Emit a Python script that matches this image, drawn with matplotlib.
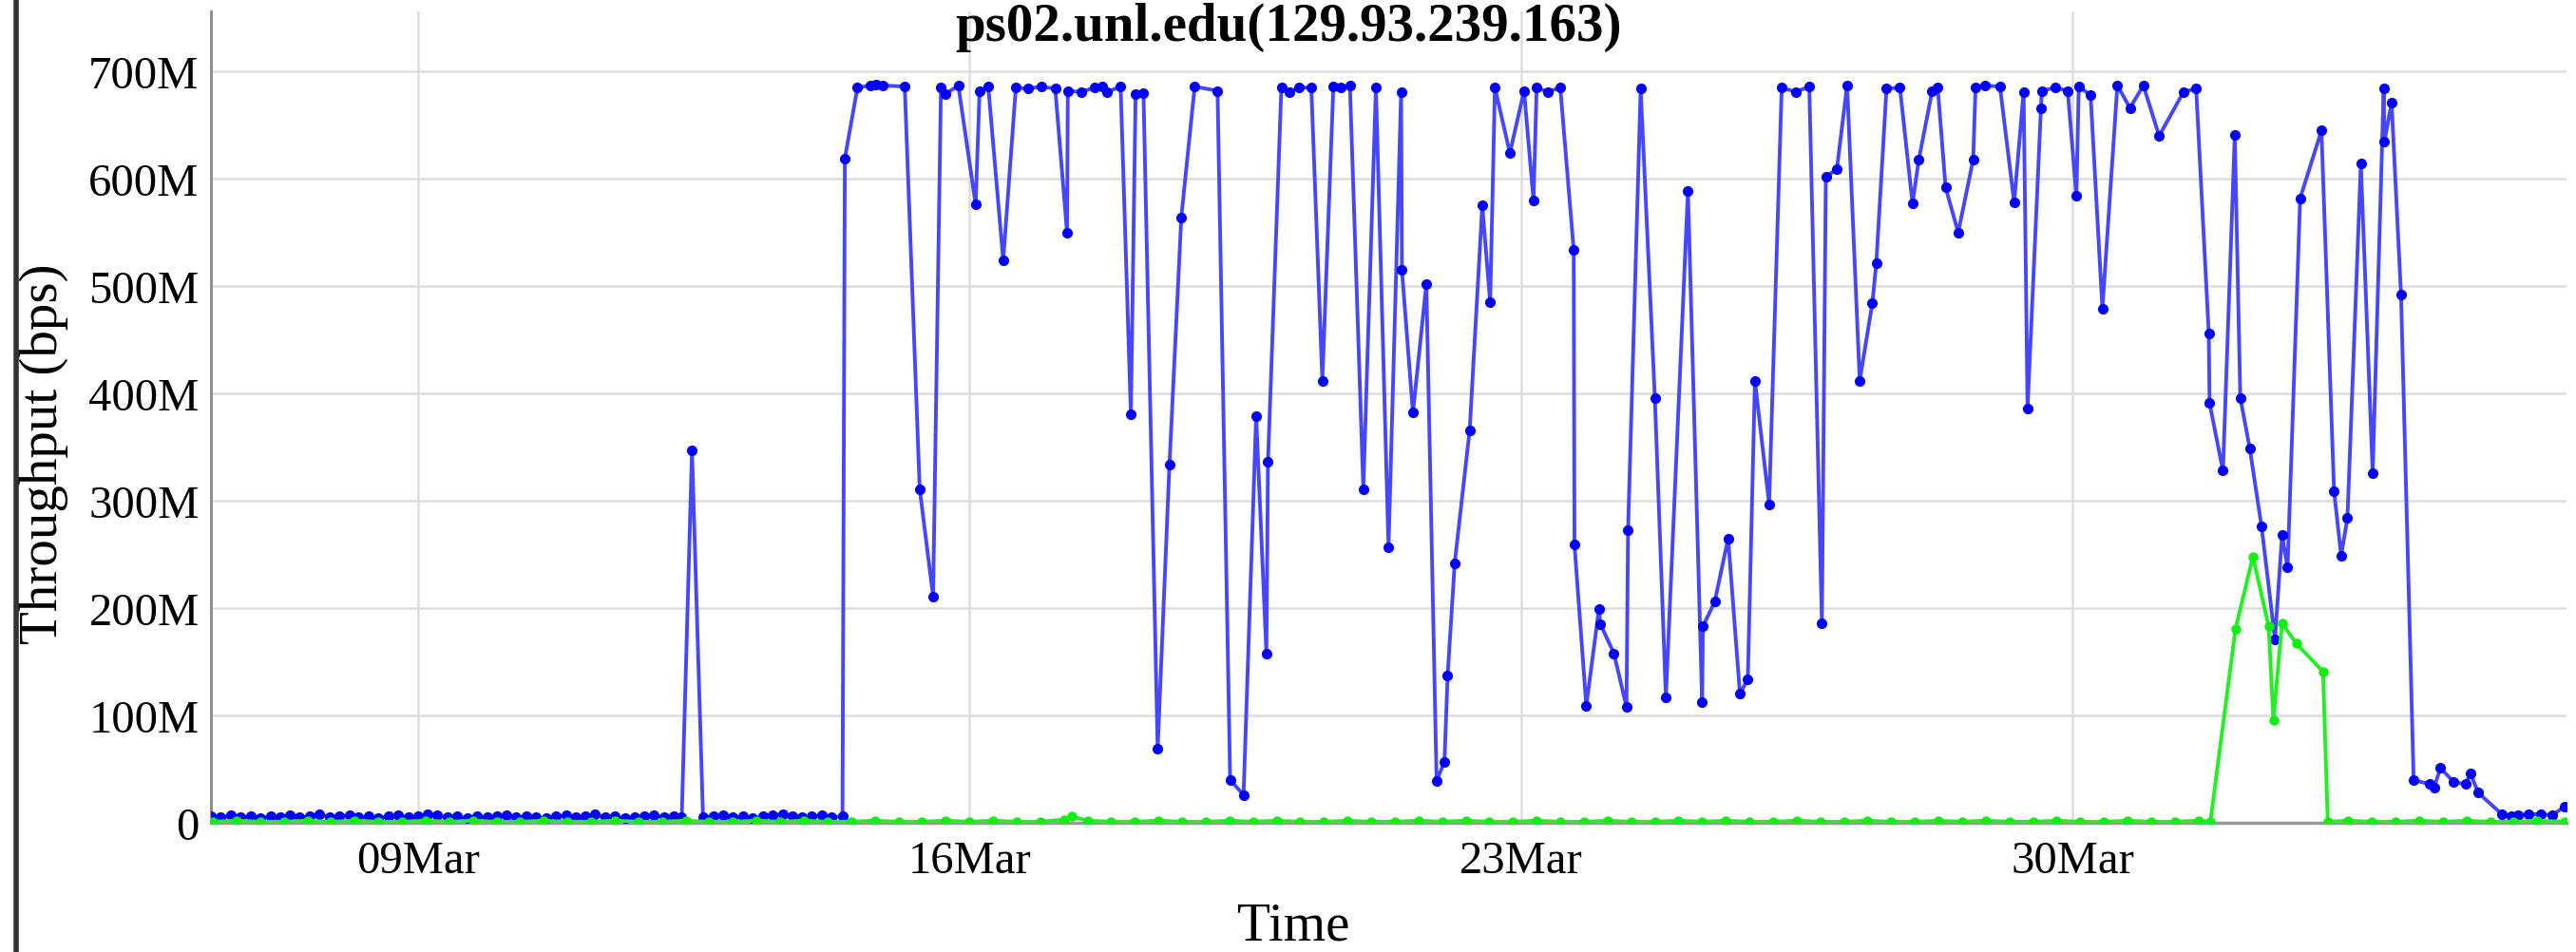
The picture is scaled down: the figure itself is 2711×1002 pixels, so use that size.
import matplotlib
matplotlib.use("Agg")
import matplotlib.pyplot as plt
import matplotlib.dates as mdates
from matplotlib.lines import Line2D
from matplotlib.ticker import FuncFormatter
from datetime import datetime, timedelta

# times are fractional days of March (32.0 = 01Apr), values in Mbps
blue_days = [
    6.38, 6.50, 6.63, 6.75, 6.88, 7.00, 7.13, 7.25, 7.38, 7.50,
    7.63, 7.75, 7.88, 8.00, 8.13, 8.25, 8.38, 8.50, 8.63, 8.75,
    8.88, 9.00, 9.13, 9.25, 9.38, 9.50, 9.63, 9.75, 9.88, 10.00,
    10.13, 10.25, 10.38, 10.50, 10.63, 10.75, 10.88, 11.00, 11.13, 11.25,
    11.38, 11.50, 11.63, 11.75, 11.88, 12.00, 12.13, 12.25, 12.35, 12.48,
    12.62, 12.75, 12.88, 13.00, 13.13, 13.25, 13.38, 13.50, 13.63, 13.75,
    13.88, 14.00, 14.13, 14.25, 14.39,
    14.42, 14.58, 14.74, 14.82, 14.90, 15.18, 15.37, 15.54, 15.64, 15.70,
    15.86, 16.08, 16.13, 16.24, 16.43, 16.59, 16.74, 16.91, 17.09, 17.24,
    17.25, 17.42, 17.59, 17.69, 17.75, 17.92, 18.05, 18.11, 18.21, 18.39,
    18.54, 18.69, 18.86, 19.15, 19.31, 19.48, 19.64, 19.77, 19.79, 19.96,
    20.06, 20.18, 20.34, 20.48, 20.62, 20.71, 20.83, 21.00, 21.16, 21.32,
    21.48, 21.49, 21.63, 21.80, 21.93, 22.03, 22.07, 22.16, 22.35, 22.51,
    22.61, 22.67, 22.86, 23.04, 23.16, 23.20, 23.34, 23.50, 23.67, 23.68,
    23.83, 23.99, 24.01, 24.18, 24.34, 24.36, 24.52, 24.70, 24.84, 25.12,
    25.30, 25.31, 25.46, 25.63, 25.78, 25.88, 25.97, 26.15, 26.31, 26.49,
    26.66, 26.82, 26.87, 27.01, 27.14, 27.30, 27.46, 27.51, 27.64, 27.81,
    27.97, 28.05, 28.22, 28.29, 28.39, 28.55, 28.74, 28.77, 28.89, 29.08,
    29.26, 29.38, 29.43, 29.60, 29.61, 29.78, 29.94, 30.05, 30.08, 30.23,
    30.38, 30.57, 30.73, 30.90, 31.10, 31.41, 31.57, 31.73, 31.74, 31.91,
    32.06, 32.13, 32.25, 32.40, 32.57, 32.66, 32.73, 32.89, 33.16, 33.32,
    33.41, 33.49, 33.66, 33.81, 33.95, 33.96, 34.05, 34.17, 34.33, 34.53,
    34.59, 34.67, 34.84, 34.99, 35.05, 35.15, 35.45, 35.57, 35.65, 35.79,
    35.95, 36.09, 36.24,
]
blue_mbps = [
    6, 5, 7, 5, 6, 4, 6, 5, 7, 5,
    6, 8, 5, 6, 7, 5, 6, 4, 6, 7,
    5, 6, 8, 7, 5, 6, 4, 6, 5, 6,
    7, 5, 6, 5, 4, 6, 7, 5, 6, 8,
    5, 6, 4, 5, 6, 7, 5, 6, 5, 347,
    5, 6, 7, 5, 6, 4, 6, 7, 8, 6,
    5, 6, 7, 5, 6,
    619, 685, 687, 688, 687, 686, 311, 211, 685, 679,
    687, 576, 682, 686, 524, 685, 684, 686, 684, 550,
    682, 681, 685, 686, 681, 686, 381, 679, 680, 69,
    334, 564, 686, 682, 40, 26, 379, 158, 336, 685,
    681, 685, 685, 412, 686, 685, 687, 311, 685, 257,
    681, 515, 382, 502, 39, 57, 137, 242, 366, 575,
    485, 685, 624, 682, 580, 685, 681, 685, 534, 259,
    109, 199, 185, 158, 108, 273, 684, 396, 117, 589,
    112, 183, 206, 265, 120, 134, 412, 297, 685, 681,
    686, 186, 602, 609, 687, 412, 484, 521, 684, 685,
    577, 618, 682, 685, 592, 550, 618, 685, 687, 686,
    578, 681, 386, 666, 682, 685, 682, 584, 686, 678,
    479, 687, 666, 687, 640, 681, 684, 456, 391, 328,
    641, 396, 349, 276, 171, 268, 238, 582, 645, 309,
    249, 284, 614, 326, 684, 635, 671, 492, 40, 36,
    33, 51, 38, 36, 46, 28, 8, 6, 7, 8,
    8, 7, 15,
]

green_days = [
    6.4, 6.7, 7.0, 7.3, 7.6, 7.9, 8.2, 8.5, 8.8, 9.1,
    9.4, 9.7, 10.0, 10.3, 10.6, 10.9, 11.2, 11.5, 11.8, 12.1,
    12.4, 12.7, 13.0, 13.3, 13.6, 13.9, 14.2, 14.5, 14.8, 15.1,
    15.4, 15.7, 16.0, 16.3, 16.6, 16.9, 17.2, 17.3, 17.5, 17.8,
    18.1, 18.4, 18.7, 19.0, 19.3, 19.6, 19.9, 20.2, 20.5, 20.8,
    21.1, 21.4, 21.7, 22.0, 22.3, 22.6, 22.9, 23.2, 23.5, 23.8,
    24.1, 24.4, 24.7, 25.0, 25.3, 25.6, 25.9, 26.2, 26.5, 26.8,
    27.1, 27.4, 27.7, 28.0, 28.3, 28.6, 28.9, 29.2, 29.5, 29.8,
    30.1, 30.4, 30.7, 31.0, 31.3, 31.6, 31.75,
    32.07, 32.29, 32.49, 32.55, 32.66, 32.84, 33.18, 33.24,
    33.5, 33.8, 34.1, 34.4, 34.7, 35.0, 35.3, 35.6, 35.9, 36.24,
]
green_mbps = [
    1, 2, 1, 1, 2, 1, 2, 1, 1, 2,
    1, 2, 1, 1, 2, 1, 1, 2, 1, 1,
    2, 1, 1, 2, 1, 2, 1, 1, 2, 1,
    1, 2, 1, 2, 1, 1, 3, 6, 2, 1,
    1, 2, 1, 1, 2, 1, 2, 1, 1, 2,
    1, 1, 2, 1, 2, 1, 1, 2, 1, 1,
    2, 1, 1, 2, 1, 2, 1, 1, 2, 1,
    1, 2, 1, 1, 2, 1, 2, 1, 1, 2,
    1, 1, 2, 1, 1, 2, 1,
    181, 248, 183, 96, 186, 167, 141, 1,
    2, 1, 1, 2, 1, 2, 1, 1, 2, 1,
]

title = "ps02.unl.edu(129.93.239.163)"
tick_days = [9, 16, 23, 30]
y_ticks = [0, 100, 200, 300, 400, 500, 600, 700]


def to_date(d):
    return datetime(2014, 3, 1) + timedelta(days=d - 1)


plt.rcParams["font.family"] = ["Liberation Serif", "DejaVu Serif"]

fig = plt.figure(figsize=(27.11, 10.03), dpi=100)
ax = fig.add_axes([222 / 2711, 1 - 867 / 1003, 2479 / 2711, 854 / 1003])

bx = [to_date(d) for d in blue_days]
gx = [to_date(d) for d in green_days]
ax.plot(bx, [v * 1e6 for v in blue_mbps], color="#4646ff", lw=2.8,
        marker="o", ms=7, mfc="#0000ff", mec="#0000ff", zorder=3)
ax.plot(gx, [v * 1e6 for v in green_mbps], color="#22f022", lw=2.8,
        marker="o", ms=6.5, mfc="#11ee11", mec="#11ee11", zorder=4)

ax.set_xlim(to_date(6.375), to_date(36.27))
ax.set_ylim(0, 756e6)
ax.set_xticks([to_date(d) for d in tick_days])
ax.xaxis.set_major_formatter(mdates.DateFormatter("%d%b"))
ax.set_yticks([v * 1e6 for v in y_ticks])
ax.yaxis.set_major_formatter(FuncFormatter(lambda v, p: "0" if v == 0 else f"{int(round(v / 1e6))}M"))

ax.grid(True, color="#dddddd", lw=1.8)
ax.set_axisbelow(True)
ax.tick_params(length=0, labelsize=35)
ax.tick_params(axis="x", pad=13)
ax.tick_params(axis="y", pad=9)
for lab in ax.get_yticklabels():
    lab.set_va("center_baseline")

for s in ["top", "right"]:
    ax.spines[s].set_visible(False)
ax.spines["left"].set_color("#888888")
ax.spines["left"].set_linewidth(2)
ax.spines["bottom"].set_color("#999999")
ax.spines["bottom"].set_linewidth(2.5)

ax.set_xlabel("Time", fontsize=41)
ax.xaxis.label.set_va("baseline")
ax.xaxis.set_label_coords(0.4595, -0.144)
ax.set_ylabel("Throughput (bps)", fontsize=41)
ax.yaxis.set_label_coords(-0.0605, 0.4555)

fig.text(0.5, 1 - 43 / 1003, title, ha="center", va="baseline",
         fontsize=41, fontweight="bold")

# screenshot border on the far left
fig.add_artist(Line2D([17 / 2711, 17 / 2711], [0, 1], color="#333333", lw=4))

fig.savefig("out.png", dpi=100)
